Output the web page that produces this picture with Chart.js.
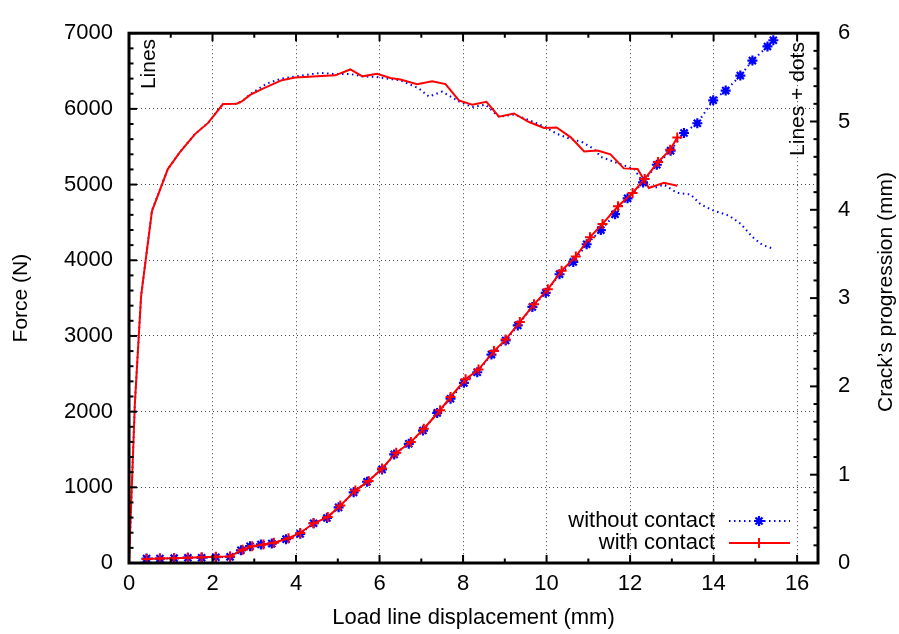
<!DOCTYPE html>
<html>
<head>
<meta charset="utf-8">
<script src="https://cdn.jsdelivr.net/npm/chart.js"></script>
<style>
  body { margin: 0; background: #fff; }
  #wrap { width: 899px; height: 634px; }
</style>
</head>
<body>
<div id="wrap"><canvas id="crackChart" width="899" height="634"></canvas></div>
<script>
// tick labels
const xTicks = [0, 2, 4, 6, 8, 10, 12, 14, 16];
const xMinorTicks = [1, 3, 5, 7, 9, 11, 13, 15];
const forceTicks = [0, 1000, 2000, 3000, 4000, 5000, 6000, 7000];
const crackTicks = [0, 1, 2, 3, 4, 5, 6];

// force (N) vs load line displacement (mm), "Lines"
const forceWithX = [0, 0.14, 0.29, 0.55, 0.93, 1.22, 1.58, 1.90, 2.25, 2.58, 2.70, 2.90, 3.22, 3.66, 3.98, 4.94, 5.30, 5.59, 5.94, 6.26, 6.50, 6.90, 7.26, 7.58, 7.90, 8.22, 8.56, 8.86, 9.22, 9.58, 9.94, 10.24, 10.58, 10.90, 11.22, 11.53, 11.85, 12.18, 12.45, 12.81, 13.13];
const forceWithY = [0, 2100, 3530, 4650, 5205, 5430, 5667, 5818, 6064, 6068, 6098, 6184, 6271, 6379, 6414, 6443, 6521, 6430, 6465, 6408, 6388, 6327, 6366, 6327, 6111, 6055, 6094, 5896, 5939, 5826, 5749, 5754, 5624, 5438, 5451, 5399, 5214, 5205, 4955, 5024, 4985];

const forceWithoutX = [0, 0.14, 0.29, 0.55, 0.93, 1.22, 1.58, 1.90, 2.25, 2.58, 2.70, 2.92, 3.30, 3.66, 4.00, 4.58, 4.94, 5.30, 5.60, 5.94, 6.26, 6.50, 6.94, 7.18, 7.50, 7.90, 8.22, 8.54, 8.86, 9.22, 9.54, 9.94, 10.26, 10.58, 10.86, 11.13, 11.30, 11.61, 11.94, 12.10, 12.29, 12.57, 12.81, 13.13, 13.45, 13.69, 13.97, 14.37, 14.65, 14.93, 15.17, 15.41];
const forceWithoutY = [0, 2100, 3530, 4660, 5205, 5430, 5667, 5818, 6064, 6068, 6098, 6200, 6335, 6400, 6430, 6475, 6460, 6460, 6430, 6420, 6395, 6378, 6271, 6163, 6228, 6098, 6025, 6055, 5896, 5926, 5861, 5767, 5667, 5602, 5560, 5473, 5366, 5301, 5236, 5205, 5042, 4955, 4998, 4891, 4869, 4739, 4662, 4589, 4481, 4308, 4201, 4157];

// crack's progression (mm), "Lines + dots"
const crackWithoutX = [0.42, 0.74, 1.08, 1.41, 1.74, 2.08, 2.42, 2.68, 2.90, 3.16, 3.42, 3.76, 4.10, 4.42, 4.74, 5.02, 5.38, 5.70, 6.06, 6.35, 6.70, 7.04, 7.38, 7.70, 8.02, 8.34, 8.68, 9.02, 9.31, 9.66, 9.98, 10.31, 10.64, 10.96, 11.30, 11.64, 11.94, 12.31, 12.64, 12.97, 13.29, 13.61, 13.99, 14.29, 14.64, 14.93, 15.29, 15.43];
const crackWithoutY = [0.05, 0.05, 0.055, 0.06, 0.06, 0.065, 0.07, 0.144, 0.19, 0.21, 0.22, 0.27, 0.33, 0.45, 0.51, 0.63, 0.80, 0.92, 1.06, 1.23, 1.35, 1.50, 1.70, 1.86, 2.04, 2.16, 2.36, 2.52, 2.69, 2.90, 3.06, 3.27, 3.41, 3.61, 3.77, 3.95, 4.13, 4.31, 4.51, 4.67, 4.87, 4.98, 5.24, 5.35, 5.52, 5.69, 5.85, 5.92];

const crackWithX = [0.42, 0.74, 1.08, 1.41, 1.74, 2.08, 2.42, 2.72, 2.95, 3.22, 3.47, 3.82, 4.10, 4.42, 4.76, 5.06, 5.42, 5.74, 6.06, 6.40, 6.75, 7.06, 7.45, 7.70, 8.06, 8.37, 8.74, 9.02, 9.36, 9.70, 10.03, 10.36, 10.70, 11.04, 11.34, 11.71, 12.06, 12.35, 12.67, 12.96, 13.13];
const crackWithY = [0.045, 0.05, 0.055, 0.06, 0.065, 0.07, 0.075, 0.15, 0.19, 0.21, 0.23, 0.28, 0.34, 0.45, 0.52, 0.65, 0.82, 0.93, 1.07, 1.25, 1.37, 1.52, 1.73, 1.88, 2.08, 2.19, 2.40, 2.53, 2.73, 2.93, 3.10, 3.31, 3.47, 3.69, 3.84, 4.04, 4.19, 4.35, 4.54, 4.68, 4.82];

const FONT = 'Liberation Sans, Arial, Helvetica, sans-serif';
const BLUE = '#0000ff';
const RED = '#ff0000';

function pairs(xs, ys) {
    return xs.map((x, i) => ({ x: x, y: ys[i] }));
}

Chart.defaults.color = '#000';
Chart.defaults.font.family = FONT;
Chart.defaults.font.size = 22;

// gnuplot-like frame, inward ticks, legend and side notes
const gnuplotFrame = {
    id: 'gnuplotFrame',
    afterDraw(chart) {
        const ctx = chart.ctx;
        const a = chart.chartArea;
        const sx = chart.scales.x, sy = chart.scales.y, sy2 = chart.scales.y2;
        ctx.save();

        // ticks
        ctx.strokeStyle = '#000';
        ctx.lineWidth = 2;
        const big = 8, small = 4.5;
        function vtick(px, len) {
            ctx.beginPath();
            ctx.moveTo(px, a.bottom); ctx.lineTo(px, a.bottom - len);
            ctx.moveTo(px, a.top); ctx.lineTo(px, a.top + len);
            ctx.stroke();
        }
        xTicks.forEach(v => vtick(sx.getPixelForValue(v), big));
        xMinorTicks.forEach(v => vtick(sx.getPixelForValue(v), small));
        for (let v = 0; v <= 7000; v += 200) {
            const py = sy.getPixelForValue(v);
            ctx.beginPath();
            ctx.moveTo(a.left, py); ctx.lineTo(a.left + (v % 1000 === 0 ? big : small), py);
            ctx.stroke();
        }
        for (let k = 0; k <= 30; k++) {
            const py = sy2.getPixelForValue(k / 5);
            ctx.beginPath();
            ctx.moveTo(a.right, py); ctx.lineTo(a.right - (k % 5 === 0 ? big : small), py);
            ctx.stroke();
        }

        // frame
        ctx.lineWidth = 3;
        ctx.strokeRect(a.left, a.top, a.right - a.left, a.bottom - a.top);

        // rotated texts
        ctx.fillStyle = '#000';
        ctx.font = '21px ' + FONT;
        ctx.textAlign = 'center';
        ctx.textBaseline = 'middle';
        function vtext(txt, x, y) {
            ctx.save();
            ctx.translate(x, y);
            ctx.rotate(-Math.PI / 2);
            ctx.fillText(txt, 0, 0);
            ctx.restore();
        }
        vtext('Lines', 149, 64);
        vtext('Lines + dots', 798, 99);
        vtext('Crack\u2019s progression (mm)', 886, 292);

        // legend
        ctx.font = '22px ' + FONT;
        ctx.textAlign = 'right';
        const rows = [
            { label: 'without contact', ds: chart.data.datasets[2], y: 521 },
            { label: 'with contact', ds: chart.data.datasets[3], y: 543 }
        ];
        rows.forEach(r => {
            ctx.fillStyle = '#000';
            ctx.fillText(r.label, 715, r.y);
            ctx.strokeStyle = r.ds.borderColor;
            ctx.lineWidth = r.ds.borderWidth;
            ctx.setLineDash(r.ds.borderDash || []);
            ctx.beginPath();
            ctx.moveTo(729, r.y); ctx.lineTo(790, r.y);
            ctx.stroke();
            ctx.setLineDash([]);
            ctx.lineWidth = r.ds.pointBorderWidth;
            Chart.helpers.drawPoint(ctx, {
                pointStyle: r.ds.pointStyle, radius: r.ds.pointRadius,
                rotation: 0, borderWidth: r.ds.pointBorderWidth
            }, 759, r.y);
        });
        ctx.restore();
    }
};

const plainLabel = v => String(v);

new Chart(document.getElementById('crackChart'), {
    type: 'line',
    data: {
        datasets: [
            {
                label: 'force without contact',
                data: pairs(forceWithoutX, forceWithoutY),
                yAxisID: 'y',
                borderColor: BLUE, borderWidth: 2, borderDash: [1.5, 3.5],
                pointRadius: 0, tension: 0, order: 3
            },
            {
                label: 'force with contact',
                data: pairs(forceWithX, forceWithY),
                yAxisID: 'y',
                borderColor: RED, borderWidth: 2,
                pointRadius: 0, tension: 0, order: 2
            },
            {
                label: 'without contact',
                data: pairs(crackWithoutX, crackWithoutY),
                yAxisID: 'y2',
                borderColor: BLUE, borderWidth: 2, borderDash: [1.5, 3.5],
                pointStyle: 'star', pointRadius: 5, pointBorderWidth: 2.2,
                pointBorderColor: BLUE, pointBackgroundColor: BLUE,
                tension: 0, order: 1
            },
            {
                label: 'with contact',
                data: pairs(crackWithX, crackWithY),
                yAxisID: 'y2',
                borderColor: RED, borderWidth: 2,
                pointStyle: 'cross', pointRadius: 5, pointBorderWidth: 2,
                pointBorderColor: RED, pointBackgroundColor: RED,
                tension: 0, order: 0
            }
        ]
    },
    options: {
        responsive: false,
        animation: false,
        layout: { padding: { top: 22, left: 0, right: 0, bottom: 0 } },
        plugins: {
            legend: { display: false },
            tooltip: { enabled: false }
        },
        scales: {
            x: {
                type: 'linear',
                position: 'bottom',
                min: 0,
                max: 16.5,
                afterBuildTicks: s => { s.ticks = xTicks.map(v => ({ value: v })); },
                afterFit: s => { s.height = 71; },
                ticks: { padding: 8, autoSkip: false, maxRotation: 0, callback: plainLabel },
                grid: { color: '#444', lineWidth: 1, drawTicks: false },
                border: { display: false, dash: [1, 3] },
                title: {
                    display: true,
                    text: 'Load line displacement (mm)',
                    padding: { top: 0, bottom: 3 }
                }
            },
            y: {
                type: 'linear',
                position: 'left',
                min: 0,
                max: 7000,
                afterBuildTicks: s => { s.ticks = forceTicks.map(v => ({ value: v })); },
                afterFit: s => { s.width = 129; },
                ticks: { padding: 16, callback: plainLabel },
                grid: { color: '#444', lineWidth: 1, drawTicks: false },
                border: { display: false, dash: [1, 3] },
                title: {
                    display: true,
                    text: 'Force (N)',
                    font: { size: 21 },
                    padding: { top: 9, bottom: 0 }
                }
            },
            y2: {
                type: 'linear',
                position: 'right',
                min: 0,
                max: 6,
                afterBuildTicks: s => { s.ticks = crackTicks.map(v => ({ value: v })); },
                afterFit: s => { s.width = 81; },
                ticks: { padding: 20, callback: plainLabel },
                grid: { display: false, drawTicks: false },
                border: { display: false }
            }
        }
    },
    plugins: [gnuplotFrame]
});
</script>
</body>
</html>
